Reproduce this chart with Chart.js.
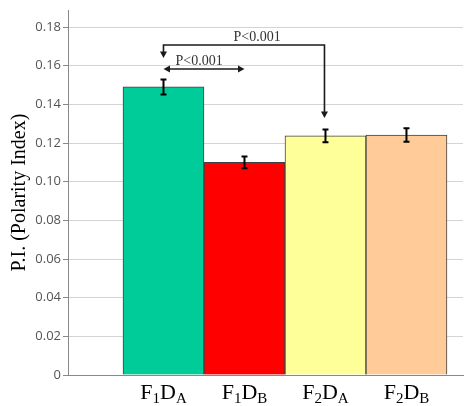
<!DOCTYPE html>
<html>
<head>
<meta charset="utf-8">
<script src="https://cdn.jsdelivr.net/npm/chart.js@4/dist/chart.umd.min.js"></script>
<style>
  html, body { margin:0; padding:0; background:#fff; }
  #wrap { width:465px; height:406px; position:relative; }
</style>
</head>
<body>
<div id="wrap"><canvas id="piChart"></canvas></div>
<script>
// ---------- Data ----------

// category labels split into [main, sub, main, sub]
const categories = [
    ["F","1","D","A"],
    ["F","1","D","B"],
    ["F","2","D","A"],
    ["F","2","D","B"]
];

const piValues  = [0.149, 0.110, 0.1237, 0.1241];
const piErrors  = [0.0039, 0.0030, 0.0033, 0.0035];
const barColors = ["#00CC99", "#FF0000", "#FFFF99", "#FFCC99"];

const yTicks = [0, 0.02, 0.04, 0.06, 0.08, 0.10, 0.12, 0.14, 0.16, 0.18];

// significance marks: from bar, to bar, line level, arrow tips, label
const sigFrom   = [0, 0];
const sigTo     = [1, 2];
const sigLevel  = [0.1583, 0.1707];
const sigTipA   = [0.1583, 0.1640];
const sigTipB   = [0.1583, 0.1330];
const sigLabels = ["P<0.001", "P<0.001"];


// ---------- Plugins ----------

function arrowHead(ctx, x, y, dir){
    const s = 5;
    ctx.beginPath();
    if(dir === "down"){
        ctx.moveTo(x, y); ctx.lineTo(x - s*0.7, y - s*1.3); ctx.lineTo(x + s*0.7, y - s*1.3);
    } else if(dir === "left"){
        ctx.moveTo(x, y); ctx.lineTo(x + s*1.3, y - s*0.7); ctx.lineTo(x + s*1.3, y + s*0.7);
    } else {
        ctx.moveTo(x, y); ctx.lineTo(x - s*1.3, y - s*0.7); ctx.lineTo(x - s*1.3, y + s*0.7);
    }
    ctx.closePath();
    ctx.fill();
}

const extrasPlugin = {
    id: "extras",
    afterDatasetsDraw(chart){
        const ctx = chart.ctx;
        const xs = chart.scales.x;
        const ys = chart.scales.y;

        // error bars
        ctx.save();
        ctx.strokeStyle = "#000";
        ctx.lineWidth = 2;
        piValues.forEach((v, i)=>{
            const x = xs.getPixelForValue(i);
            const t = ys.getPixelForValue(v + piErrors[i]);
            const b = ys.getPixelForValue(v - piErrors[i]);
            ctx.beginPath();
            ctx.moveTo(x, t); ctx.lineTo(x, b);
            ctx.moveTo(x - 3, t); ctx.lineTo(x + 3, t);
            ctx.moveTo(x - 3, b); ctx.lineTo(x + 3, b);
            ctx.stroke();
        });
        ctx.restore();

        // significance arrows
        ctx.save();
        ctx.strokeStyle = "#1a1a1a";
        ctx.fillStyle = "#1a1a1a";
        ctx.lineWidth = 1.6;
        ctx.font = "14px 'Liberation Serif', 'Times New Roman', serif";
        ctx.textBaseline = "bottom";

        // first: horizontal double arrow
        {
            const x1 = xs.getPixelForValue(sigFrom[0]);
            const x2 = xs.getPixelForValue(sigTo[0]);
            const y = ys.getPixelForValue(sigLevel[0]);
            ctx.beginPath(); ctx.moveTo(x1 + 4, y); ctx.lineTo(x2 - 4, y); ctx.stroke();
            arrowHead(ctx, x1, y, "left");
            arrowHead(ctx, x2, y, "right");
            ctx.textAlign = "left";
            ctx.fillStyle = "#333";
            ctx.fillText(sigLabels[0], x1 + 12, y - 1);
            ctx.fillStyle = "#1a1a1a";
        }

        // second: bracket with down arrows
        {
            const x1 = xs.getPixelForValue(sigFrom[1]);
            const x2 = xs.getPixelForValue(sigTo[1]) - 1;
            const y = ys.getPixelForValue(sigLevel[1]);
            const ya = ys.getPixelForValue(sigTipA[1]);
            const yb = ys.getPixelForValue(sigTipB[1]);
            ctx.beginPath();
            ctx.moveTo(x1, ya - 4); ctx.lineTo(x1, y); ctx.lineTo(x2, y); ctx.lineTo(x2, yb - 4);
            ctx.stroke();
            arrowHead(ctx, x1, ya, "down");
            arrowHead(ctx, x2, yb, "down");
            ctx.textAlign = "left";
            ctx.fillStyle = "#333";
            ctx.fillText(sigLabels[1], x2 - 91, y - 1);
        }
        ctx.restore();

        // category labels with subscripts
        ctx.save();
        ctx.fillStyle = "#000";
        ctx.textBaseline = "alphabetic";
        ctx.textAlign = "left";
        const big = "22px 'Liberation Serif', 'Times New Roman', serif";
        const small = "15px 'Liberation Serif', 'Times New Roman', serif";
        const baseY = chart.chartArea.bottom + 24;
        categories.forEach((parts, i)=>{
            let w = 0;
            parts.forEach((p, k)=>{ ctx.font = k % 2 ? small : big; w += ctx.measureText(p).width; });
            let x = xs.getPixelForValue(i) - w / 2;
            parts.forEach((p, k)=>{
                ctx.font = k % 2 ? small : big;
                ctx.fillText(p, x, k % 2 ? baseY + 4 : baseY);
                x += ctx.measureText(p).width;
            });
        });
        ctx.restore();
    }
};


// ---------- Chart ----------

const piChart = new Chart(document.getElementById("piChart"), {
    type: "bar",
    data: {
        datasets: [{
            data: piValues.map((v, i)=>({x: i, y: v})),
            backgroundColor: barColors,
            borderColor: "#404040",
            borderWidth: 1,
            barPercentage: 1,
            categoryPercentage: 1
        }]
    },
    options: {
        responsive: true,
        maintainAspectRatio: false,
        animation: false,
        layout: { padding: { top: 10, right: 2, left: 0, bottom: 0 } },
        plugins: { legend: { display: false }, tooltip: { enabled: false } },
        scales: {
            x: {
                type: "linear",
                min: -1.179,
                max: 3.698,
                offset: false,
                afterBuildTicks(s){ s.ticks = categories.map((c, i)=>({value: i})); },
                grid: { display: false },
                border: { display: true, color: "#888" },
                ticks: { display: false },
                afterFit(s){ s.height = 31; }
            },
            y: {
                min: 0,
                max: 0.1888,
                afterBuildTicks(s){ s.ticks = yTicks.map(v=>({value: v})); },
                grid: { color: "#d4d4d4", tickColor: "#888", tickLength: 5 },
                border: { color: "#888" },
                ticks: {
                    padding: 2,
                    color: "#555",
                    font: { family: "'Open Sans', 'Liberation Sans', sans-serif", size: 13 },
                    callback: v => v === 0 ? "0" : v.toFixed(2)
                },
                title: {
                    display: true,
                    text: "P.I. (Polarity Index)",
                    color: "#000",
                    padding: { top: 8, bottom: 2 },
                    font: { family: "'Liberation Serif', 'Times New Roman', serif", size: 20 }
                },
                afterFit(s){ s.width = 68; }
            }
        }
    },
    plugins: [extrasPlugin]
});
</script>
</body>
</html>
